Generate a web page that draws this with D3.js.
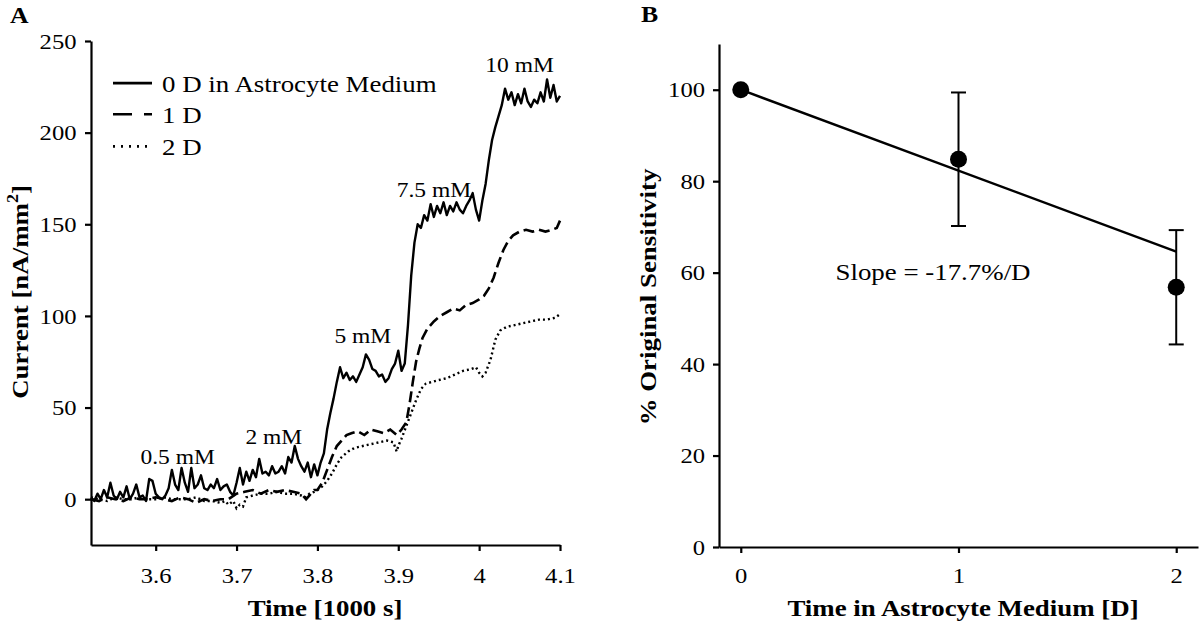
<!DOCTYPE html>
<html><head><meta charset="utf-8">
<script src="https://cdn.jsdelivr.net/npm/d3@7"></script>
<style>body{margin:0;background:#fff} svg{display:block}</style>
</head><body><svg id="c" width="1200" height="624"></svg>
<script>
// ---------------- DATA ----------------
// Panel A: current traces (time in 1000 s, current in nA/mm^2)
const solidTime = [3.520,3.524,3.528,3.532,3.536,3.540,3.544,3.548,3.552,3.556,
3.560,3.564,3.568,3.572,3.576,3.580,3.584,3.588,3.592,3.596,
3.600,3.604,3.608,3.612,3.616,3.620,3.624,3.628,3.632,3.636,
3.640,3.644,3.648,3.652,3.656,3.660,3.664,3.668,3.672,3.676,
3.680,3.684,3.688,3.692,3.696,3.700,3.704,3.708,3.712,3.716,
3.720,3.724,3.728,3.732,3.736,3.740,3.744,3.748,3.752,3.756,
3.760,3.764,3.768,3.772,3.776,3.780,3.784,3.788,3.792,3.796,
3.800,3.804,3.808,3.812,3.816,3.820,3.824,3.828,3.832,3.836,
3.840,3.844,3.848,3.852,3.856,3.860,3.864,3.868,3.872,3.876,
3.880,3.884,3.888,3.892,3.896,3.900,3.904,3.908,3.912,3.916,
3.920,3.924,3.928,3.932,3.936,3.940,3.944,3.948,3.952,3.956,
3.960,3.964,3.968,3.972,3.976,3.980,3.984,3.988,3.992,3.996,
4.000,4.004,4.008,4.012,4.016,4.020,4.024,4.028,4.032,4.036,
4.040,4.044,4.048,4.052,4.056,4.060,4.064,4.068,4.072,4.076,
4.080,4.084,4.088,4.092,4.096,4.100];
const solidValues = [1,-1,3,0,5,1,9,2,0,4,
1,7,0,3,8,1,2,-1,11,10,
3,1,0,2,6,16,8,5,17,9,
4,17,6,8,13,6,5,8,6,11,
5,7,8,4,2,9,17,8,15,10,
16,12,22,14,15,13,18,14,15,18,
14,23,20,29,22,18,15,20,12,19,
13,20,25,38,47,55,64,72,66,69,
65,67,64,68,72,79,76,71,70,67,
68,64,66,71,74,81,70,74,95,122,
140,150,148,155,152,161,154,160,156,162,
155,160,157,162,158,156,160,163,167,158,
152,163,172,185,196,203,209,215,224,218,
222,215,221,216,224,217,214,218,216,222,
217,229,219,226,217,220];

const dashedTime = [3.520,3.530,3.540,3.550,3.560,3.570,3.580,3.590,3.600,3.610,
3.620,3.630,3.640,3.650,3.660,3.670,3.680,3.690,3.700,3.710,
3.720,3.730,3.740,3.750,3.760,3.770,3.780,3.786,3.790,3.796,
3.800,3.806,3.812,3.818,3.824,3.830,3.836,3.842,3.850,3.858,
3.866,3.874,3.882,3.890,3.898,3.904,3.910,3.914,3.918,3.922,
3.926,3.930,3.936,3.944,3.952,3.960,3.968,3.976,3.984,3.992,
4.000,4.006,4.012,4.018,4.024,4.030,4.036,4.042,4.050,4.058,
4.066,4.074,4.082,4.090,4.096,4.100];
const dashedValues = [0,-1,1,0,-1,1,0,0,1,0,
-1,1,0,-2,0,-1,0,0,3,4,
5,3,5,4,5,4,3,0,2,5,
5,9,16,23,29,32,35,36,37,35,
38,37,36,38,35,38,42,52,64,75,
82,88,93,97,100,102,104,103,106,107,
109,111,115,121,129,136,141,144,146,147,
146,147,146,147,148,152];

const dottedTime = [3.520,3.530,3.540,3.550,3.560,3.570,3.580,3.590,3.600,3.610,
3.620,3.630,3.640,3.650,3.660,3.670,3.680,3.686,3.690,3.696,
3.700,3.704,3.708,3.712,3.720,3.730,3.740,3.750,3.760,3.770,
3.780,3.786,3.790,3.796,3.800,3.806,3.812,3.818,3.824,3.830,
3.838,3.846,3.856,3.866,3.876,3.886,3.894,3.898,3.900,3.904,
3.910,3.916,3.922,3.928,3.934,3.942,3.950,3.960,3.970,3.980,
3.990,3.996,4.000,4.004,4.008,4.014,4.020,4.026,4.034,4.044,
4.054,4.064,4.074,4.084,4.094,4.100];
const dottedValues = [1,0,-1,1,0,0,1,0,0,1,
0,0,0,1,-1,-1,-2,-1,-3,-1,
-5,-3,-4,1,2,3,3,4,3,3,
2,1,3,4,5,7,10,14,19,23,
26,28,29,30,31,32,31,26,29,33,
40,47,54,60,63,64,65,66,68,70,
71,72,69,67,69,76,87,92,94,95,
96,97,98,98,99,101];

const seriesNames = ["0 D in Astrocyte Medium", "1 D", "2 D"];
const xTicksA = [3.6, 3.7, 3.8, 3.9, 4.0, 4.1];
const xTickLabelsA = ["3.6", "3.7", "3.8", "3.9", "4", "4.1"];
const yTicksA = [0, 50, 100, 150, 200, 250];
const concLabels = ["0.5 mM", "2 mM", "5 mM", "7.5 mM", "10 mM"];
const concTime = [3.637, 3.756, 3.866, 3.954, 4.060];
const concValue = [19, 30, 85, 165, 233];

// Panel B: sensitivity vs. days
const days = [0, 1, 2];
const sensitivity = [100, 84.8, 56.8];
const sensitivityErr = [0, 14.6, 12.5];
const fitDays = [0, 2];
const fitValues = [100, 64.6];
const xTicksB = [0, 1, 2];
const yTicksB = [0, 20, 40, 60, 80, 100];
const slopeText = "Slope = -17.7%/D";

// ---------------- DRAW ----------------
const svg = d3.select("#c");
const FONT = '"Liberation Serif","Times New Roman",Times,serif';
const SX = 1.12;

function label(x, y, s, o = {}) {
  const t = svg.append("text")
    .attr("transform", `translate(${x},${y}) rotate(${o.rotate || 0}) scale(${SX},1)`)
    .attr("text-anchor", o.anchor || "start")
    .attr("font-family", FONT)
    .attr("font-size", o.size || 22)
    .attr("font-weight", o.weight || "normal")
    .attr("fill", "#000");
  if (s) t.text(s);
  return t;
}

function styleAxis(g, isLeft, off) {
  g.select(".domain").attr("stroke", "#000").attr("stroke-width", 2.2);
  g.selectAll(".tick line").attr("stroke", "#000").attr("stroke-width", 2.2);
  const tx = g.selectAll(".tick text")
    .attr("font-family", FONT).attr("font-size", 22).attr("fill", "#000")
    .attr("transform", `scale(${SX},1)`);
  if (isLeft) tx.attr("x", -off / SX).attr("dy", "0.33em");
  else tx.attr("y", off).attr("dy", 0);
}

// ---- Panel A ----
const xA = d3.scaleLinear().domain([3.52, 4.1]).range([91, 560]);
const yA = d3.scaleLinear().domain([-25, 250]).range([545, 41]);

const gxA = svg.append("g").attr("transform", "translate(0,545)")
  .call(d3.axisBottom(xA).tickValues(xTicksA).tickSize(6).tickSizeOuter(0)
    .tickFormat((d, i) => xTickLabelsA[i]));
styleAxis(gxA, false, 38);
const gyA = svg.append("g").attr("transform", "translate(91,0)")
  .call(d3.axisLeft(yA).tickValues(yTicksA).tickSize(6).tickSizeOuter(0));
styleAxis(gyA, true, 14.5);

const lineA = d3.line().x(d => xA(d[0])).y(d => yA(d[1]));
const zip = (t, v) => t.map((x, i) => [x, v[i]]);

svg.append("path").datum(zip(dottedTime, dottedValues)).attr("d", lineA)
  .attr("fill", "none").attr("stroke", "#000").attr("stroke-width", 2.4)
  .attr("stroke-dasharray", "2,3");
svg.append("path").datum(zip(dashedTime, dashedValues)).attr("d", lineA)
  .attr("fill", "none").attr("stroke", "#000").attr("stroke-width", 2.6)
  .attr("stroke-dasharray", "11,5");
svg.append("path").datum(zip(solidTime, solidValues)).attr("d", lineA)
  .attr("fill", "none").attr("stroke", "#000").attr("stroke-width", 2.4)
  .attr("stroke-linejoin", "round");

// concentration labels
concLabels.forEach((s, i) => label(xA(concTime[i]) - 8, yA(concValue[i]), s, { anchor: "middle", size: 21 }));

// legend
const legDash = [null, "19,12", "2,6"];
const legY = [yA(227), yA(210), yA(192.5)];
seriesNames.forEach((s, i) => {
  const ly = legY[i];
  svg.append("line").attr("x1", 113).attr("x2", 152).attr("y1", ly).attr("y2", ly)
    .attr("stroke", "#000").attr("stroke-width", 2.6)
    .attr("stroke-dasharray", legDash[i]);
  label(162, ly + 9, s, { size: 24 });
});

// axis titles A
label(325, 616, "Time [1000 s]", { anchor: "middle", size: 24, weight: "bold" });
const yt = label(28, 292, null, { anchor: "middle", size: 24, weight: "bold", rotate: -90 });
yt.append("tspan").text("Current [nA/mm");
yt.append("tspan").text("2").attr("font-size", 16).attr("dy", -10);
yt.append("tspan").text("]").attr("dy", 10);

label(10, 23, "A", { size: 23, weight: "bold" });

// ---- Panel B ----
const xB = d3.scaleLinear().domain([-0.1, 2.1]).range([719, 1198]);
const yB = d3.scaleLinear().domain([0, 110]).range([547, 44]);

const gxB = svg.append("g").attr("transform", "translate(0,547)")
  .call(d3.axisBottom(xB).tickValues(xTicksB).tickSize(6).tickSizeOuter(0)
    .tickFormat(d3.format("d")));
styleAxis(gxB, false, 36);
const gyB = svg.append("g").attr("transform", "translate(719,0)")
  .call(d3.axisLeft(yB).tickValues(yTicksB).tickSize(6).tickSizeOuter(0)
    .tickFormat(d3.format("d")));
styleAxis(gyB, true, 14);

// fit line
svg.append("path").datum(zip(fitDays, fitValues))
  .attr("d", d3.line().x(d => xB(d[0])).y(d => yB(d[1])))
  .attr("fill", "none").attr("stroke", "#000").attr("stroke-width", 2.4);

// error bars
days.forEach((d, i) => {
  const e = sensitivityErr[i];
  if (!e) return;
  const cx = xB(d), y1 = yB(sensitivity[i] + e), y2 = yB(sensitivity[i] - e);
  svg.append("line").attr("x1", cx).attr("x2", cx).attr("y1", y1).attr("y2", y2)
    .attr("stroke", "#000").attr("stroke-width", 2);
  [y1, y2].forEach(yy => svg.append("line").attr("x1", cx - 7.5).attr("x2", cx + 7.5)
    .attr("y1", yy).attr("y2", yy).attr("stroke", "#000").attr("stroke-width", 2));
});

svg.selectAll("circle.pt").data(days).enter().append("circle")
  .attr("cx", d => xB(d)).attr("cy", (d, i) => yB(sensitivity[i])).attr("r", 8.5)
  .attr("fill", "#000");

label(933, 280, slopeText, { anchor: "middle", size: 24 });

label(963, 616, "Time in Astrocyte Medium [D]", { anchor: "middle", size: 24, weight: "bold" });
label(656, 297, "% Original Sensitivity", { anchor: "middle", size: 24, weight: "bold", rotate: -90 });
label(641, 22, "B", { size: 23, weight: "bold" });
</script>
</body></html>
